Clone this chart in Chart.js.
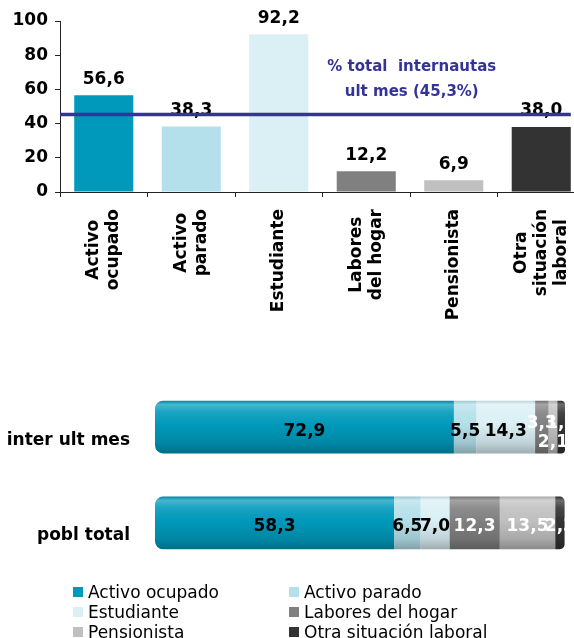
<!DOCTYPE html>
<html><head><meta charset="utf-8">
<script src="https://cdn.jsdelivr.net/npm/chart.js@4.4.1/dist/chart.umd.min.js"></script>
<style>
html,body{margin:0;padding:0;background:#fff;overflow:hidden;width:574px;height:638px;}
#wrap{position:relative;width:574px;height:638px;overflow:hidden;background:#fff;}
#c1{position:absolute;left:0;top:0;}
#c2{position:absolute;left:0;top:352px;}
#legend{position:absolute;left:0;top:582px;width:574px;height:56px;font-family:"DejaVu Sans",sans-serif;font-size:17px;line-height:20px;color:#000;}
.li{position:absolute;white-space:nowrap;height:20px;}
.sw{position:absolute;width:10px;height:10px;top:5px;}
</style></head><body><div id="wrap">
<canvas id="c1" width="585" height="340"></canvas>
<canvas id="c2" width="574" height="246"></canvas>
<div id="legend"></div></div>
<script>
// ---------- DATA ----------
const categories = ["Activo ocupado","Activo parado","Estudiante","Labores del hogar","Pensionista","Otra situación laboral"];
const categoryLines = [["Activo","ocupado"],["Activo","parado"],["Estudiante"],["Labores","del hogar"],["Pensionista"],["Otra","situación","laboral"]];
const penetrationValues = [56.6,38.3,92.2,12.2,6.9,38.0];
const referenceValue = 45.3;
const referenceLabel = ["% total  internautas","ult mes (45,3%)"];
const yTicks = [0,20,40,60,80,100];
const groups = ["inter ult mes","pobl total"];
const interUltMes = [72.9,5.5,14.3,3.3,2.1,1.9];
const poblTotal = [58.3,6.5,7.0,12.3,13.5,2.3];

// ---------- STYLE ----------
const seriesColors = ["#0099BB","#B3E0EA","#DAF0F5","#808080","#C0C0C0","#333333"];
const labelColors = ["#000","#000","#000","#fff","#fff","#fff"];
const FONT = "DejaVu Sans";
const fmt = v => v.toFixed(1).replace('.', ',');

function hex2rgb(h){h=h.replace('#','');return [0,2,4].map(i=>parseInt(h.substr(i,2),16));}
function mix(h, t, a){const c=hex2rgb(h);const m=t==='w'?255:0;return 'rgb('+c.map(v=>Math.round(v+(m-v)*a)).join(',')+')';}

// ---------- TOP CHART ----------
const topPlugin = {
  id:'topDeco',
  afterDatasetsDraw(chart){
    const {ctx, chartArea} = chart;
    const meta = chart.getDatasetMeta(0);
    const ys = chart.scales.y, xs = chart.scales.x;
    ctx.save();
    ctx.font = "bold 17px " + FONT;
    ctx.fillStyle = "#000";
    ctx.textAlign = "center";
    ctx.textBaseline = "middle";
    meta.data.forEach((bar,i)=>{
      ctx.fillText(fmt(penetrationValues[i]), bar.x, bar.y - 16);
    });
    // reference line
    const last = meta.data[meta.data.length-1];
    const yl = ys.getPixelForValue(referenceValue);
    ctx.strokeStyle = "#333399";
    ctx.lineWidth = 3.5;
    ctx.beginPath();
    ctx.moveTo(chartArea.left, yl);
    ctx.lineTo(last.x + last.width/2, yl);
    ctx.stroke();
    // annotation
    ctx.fillStyle = "#333399";
    ctx.font = "bold 15px " + FONT;
    const ax = xs.getPixelForValue(3.52);
    ctx.fillText(referenceLabel[0], ax, ys.getPixelForValue(73));
    ctx.fillText(referenceLabel[1], ax, ys.getPixelForValue(58.5));
    ctx.restore();
  },
  afterDraw(chart){
    const {ctx, chartArea} = chart;
    const xs = chart.scales.x;
    ctx.save();
    ctx.font = "bold 17px " + FONT;
    ctx.fillStyle = "#000";
    ctx.textAlign = "center";
    ctx.textBaseline = "middle";
    categoryLines.forEach((lines,i)=>{
      const x = xs.getPixelForValue(i);
      const W = Math.max(...lines.map(l=>ctx.measureText(l).width));
      const cy = chartArea.bottom + 17 + W/2;
      ctx.save();
      ctx.translate(x, cy);
      ctx.rotate(-Math.PI/2);
      lines.forEach((l,j)=>{
        ctx.fillText(l, 0, (j-(lines.length-1)/2)*20);
      });
      ctx.restore();
    });
    ctx.restore();
  }
};

new Chart(document.getElementById('c1'), {
  type:'bar',
  data:{labels:categories, datasets:[{data:penetrationValues, backgroundColor:seriesColors, barPercentage:0.675, categoryPercentage:1}]},
  options:{
    responsive:false, animation:false, devicePixelRatio:1,
    layout:{padding:{top:21,left:0,right:0,bottom:0}},
    plugins:{legend:{display:false}, tooltip:{enabled:false}},
    scales:{
      x:{
        grid:{display:true, drawOnChartArea:false, drawTicks:true, tickLength:5, color:'#222', offset:true},
        border:{display:true, color:'#222', width:1},
        ticks:{display:false},
        afterFit:(s)=>{s.height = 340-192;}
      },
      y:{
        min:0, max:100,
        afterBuildTicks:(s)=>{s.ticks = yTicks.map(v=>({value:v}));},
        grid:{drawOnChartArea:false, drawTicks:true, tickLength:5, color:'#222'},
        border:{display:true, color:'#222', width:1},
        ticks:{font:{family:FONT, size:17, weight:'bold'}, color:'#000', padding:7},
        afterFit:(s)=>{s.width = 60;}
      }
    }
  },
  plugins:[topPlugin]
});

// ---------- BOTTOM CHART ----------
const BAR_PCT = 0.55;
function cylFill(k){
  return (c)=>{
    const ch = c.chart;
    const base = seriesColors[k];
    if(!ch.chartArea || !ch.scales.y) return base;
    const ys = ch.scales.y;
    const yc = ys.getPixelForValue(c.dataIndex);
    const h = ys.height/groups.length*BAR_PCT;
    const g = ch.ctx.createLinearGradient(0, yc-h/2, 0, yc+h/2);
    g.addColorStop(0, mix(base,'b',0.12));
    g.addColorStop(0.07, mix(base,'w',0.28));
    g.addColorStop(0.22, mix(base,'w',0.1));
    g.addColorStop(0.45, base);
    g.addColorStop(0.8, mix(base,'b',0.12));
    g.addColorStop(1, mix(base,'b',0.28));
    return g;
  };
}

const bottomPlugin = {
  id:'bottomLabels',
  afterDatasetsDraw(chart){
    const {ctx} = chart;
    const dss = chart.data.datasets;
    ctx.save();
    ctx.font = "bold 17px " + FONT;
    ctx.textAlign = "center";
    ctx.textBaseline = "middle";
    dss.forEach((ds,k)=>{
      const meta = chart.getDatasetMeta(k);
      meta.data.forEach((bar,i)=>{
        const v = ds.data[i];
        const prevSmall = k > 0 && dss[k-1].data[i] < 4;
        const nextSmall = k < dss.length-1 && dss[k+1].data[i] < 4;
        let dy = 4;
        if (v < 4 && (prevSmall || nextSmall)) dy = (k % 2 === 1) ? -4 : 15;
        ctx.fillStyle = labelColors[k];
        ctx.fillText(fmt(v), (bar.x + bar.base)/2, bar.y + dy);
      });
    });
    ctx.restore();
  }
};

const seriesData = categories.map((_,k)=>[interUltMes[k], poblTotal[k]]);
new Chart(document.getElementById('c2'), {
  type:'bar',
  data:{
    labels:groups,
    datasets:categories.map((name,k)=>({
      label:name,
      data:seriesData[k],
      backgroundColor:cylFill(k),
      barPercentage:BAR_PCT, categoryPercentage:1,
      borderSkipped:(k===0||k===categories.length-1)?false:'start',
      borderRadius:k===0?{topLeft:8,bottomLeft:8,topRight:0,bottomRight:0}:(k===categories.length-1?{topLeft:0,bottomLeft:0,topRight:8,bottomRight:8}:0)
    }))
  },
  options:{
    indexAxis:'y', responsive:false, animation:false, devicePixelRatio:1,
    layout:{padding:{top:0,bottom:0,left:0,right:9}},
    plugins:{legend:{display:false}, tooltip:{enabled:false}},
    scales:{
      x:{stacked:true, min:0, max:100, display:false},
      y:{
        stacked:true,
        grid:{display:false}, border:{display:false},
        ticks:{font:{family:FONT, size:17, weight:'bold'}, color:'#000', padding:17, labelOffset:13},
        afterFit:(s)=>{s.width = 155;}
      }
    }
  },
  plugins:[bottomPlugin]
});

// ---------- LEGEND ----------
const legendEl = document.getElementById('legend');
categories.forEach((name,k)=>{
  const col = k % 2, row = Math.floor(k/2);
  const item = document.createElement('div');
  item.className = 'li';
  item.style.left = (col ? 289 : 73) + 'px';
  item.style.top = (row*20) + 'px';
  const sw = document.createElement('div');
  sw.className = 'sw';
  sw.style.left = '0px';
  sw.style.background = seriesColors[k];
  const tx = document.createElement('span');
  tx.style.position = 'absolute';
  tx.style.left = '15px';
  tx.textContent = name;
  item.appendChild(sw); item.appendChild(tx);
  legendEl.appendChild(item);
});
</script>
</body></html>
